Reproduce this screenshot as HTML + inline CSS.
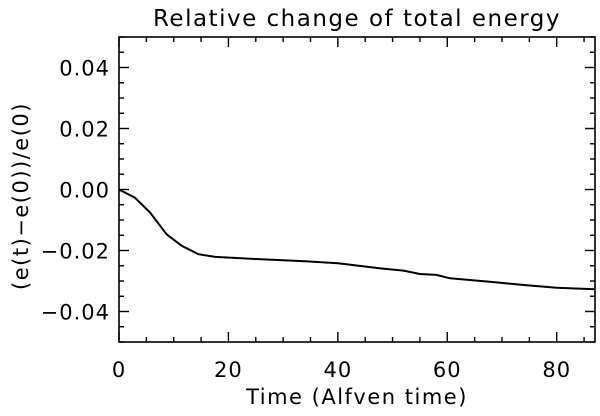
<!DOCTYPE html>
<html><head><meta charset="utf-8"><style>
html,body{margin:0;padding:0;background:#fff;}
svg text{font-family:"DejaVu Sans","Liberation Sans",sans-serif;fill:#000;}
</style></head><body>
<svg id="chart" width="600" height="411" xmlns="http://www.w3.org/2000/svg">
<text x="357" y="26" font-size="23" text-anchor="middle" letter-spacing="1.5">Relative change of total energy</text>
<rect x="119" y="37" width="476" height="305" fill="none" stroke="#000" stroke-width="1.6"/>
<g id="ticks"></g>
<path id="line" fill="none" stroke="#000" stroke-width="2"/>
<text x="357" y="404" font-size="21" text-anchor="middle" letter-spacing="1.5">Time (Alfven time)</text>
<text transform="translate(28,196) rotate(-90)" font-size="21" text-anchor="middle" letter-spacing="1.5">(e(t)−e(0))/e(0)</text>
</svg>
<script>
const times=[0,2.9,5.7,8.7,11.5,14.5,17.6,25,34,40,48,52,55,58,60.5,68,74,80,87];
const values=[0,-0.0027,-0.0076,-0.0147,-0.0185,-0.0212,-0.0221,-0.0228,-0.0235,-0.0242,-0.0259,-0.0266,-0.0277,-0.0280,-0.0291,-0.0303,-0.0313,-0.0322,-0.0327];
const xTicks=[0,20,40,60,80];
const yTicks=[0.04,0.02,0.00,-0.02,-0.04];
const yTickLabels=["0.04","0.02","0.00","−0.02","−0.04"];
const X0=119,X1=595,Y0=37,Y1=342,xMin=0,xMax=87,yMin=-0.05,yMax=0.05;
const sx=t=>X0+(t-xMin)/(xMax-xMin)*(X1-X0);
const sy=v=>Y1-(v-yMin)/(yMax-yMin)*(Y1-Y0);
const NS="http://www.w3.org/2000/svg";
const g=document.getElementById('ticks');
function ln(x1,y1,x2,y2){const l=document.createElementNS(NS,'line');l.setAttribute('x1',x1);l.setAttribute('y1',y1);l.setAttribute('x2',x2);l.setAttribute('y2',y2);l.setAttribute('stroke','#000');l.setAttribute('stroke-width','1.4');


g.appendChild(l);}
for(let t=0;t<=xMax;t+=5){const x=sx(t);const L=(t%20===0)?10:5;ln(x,Y1,x,Y1-L);ln(x,Y0,x,Y0+L);}
for(let k=-10;k<=10;k++){const v=k*0.005;const y=sy(v);const L=(k%4===0)?10:5;ln(X0,y,X0+L,y);ln(X1,y,X1-L,y);}
xTicks.forEach(t=>{const e=document.createElementNS(NS,'text');e.setAttribute('x',sx(t));e.setAttribute('y',377);e.setAttribute('font-size','21');e.setAttribute('text-anchor','middle');e.setAttribute('letter-spacing','1');e.textContent=t;


g.appendChild(e);});
yTicks.forEach((v,i)=>{const e=document.createElementNS(NS,'text');e.setAttribute('x',110);e.setAttribute('y',sy(v)+8);e.setAttribute('font-size','21');e.setAttribute('text-anchor','end');e.setAttribute('letter-spacing','1');e.textContent=yTickLabels[i];


g.appendChild(e);});
document.getElementById('line').setAttribute('d',times.map((t,i)=>(i?'L':'M')+sx(t).toFixed(1)+' '+sy(values[i]).toFixed(1)).join(' '));
</script>
</body></html>
